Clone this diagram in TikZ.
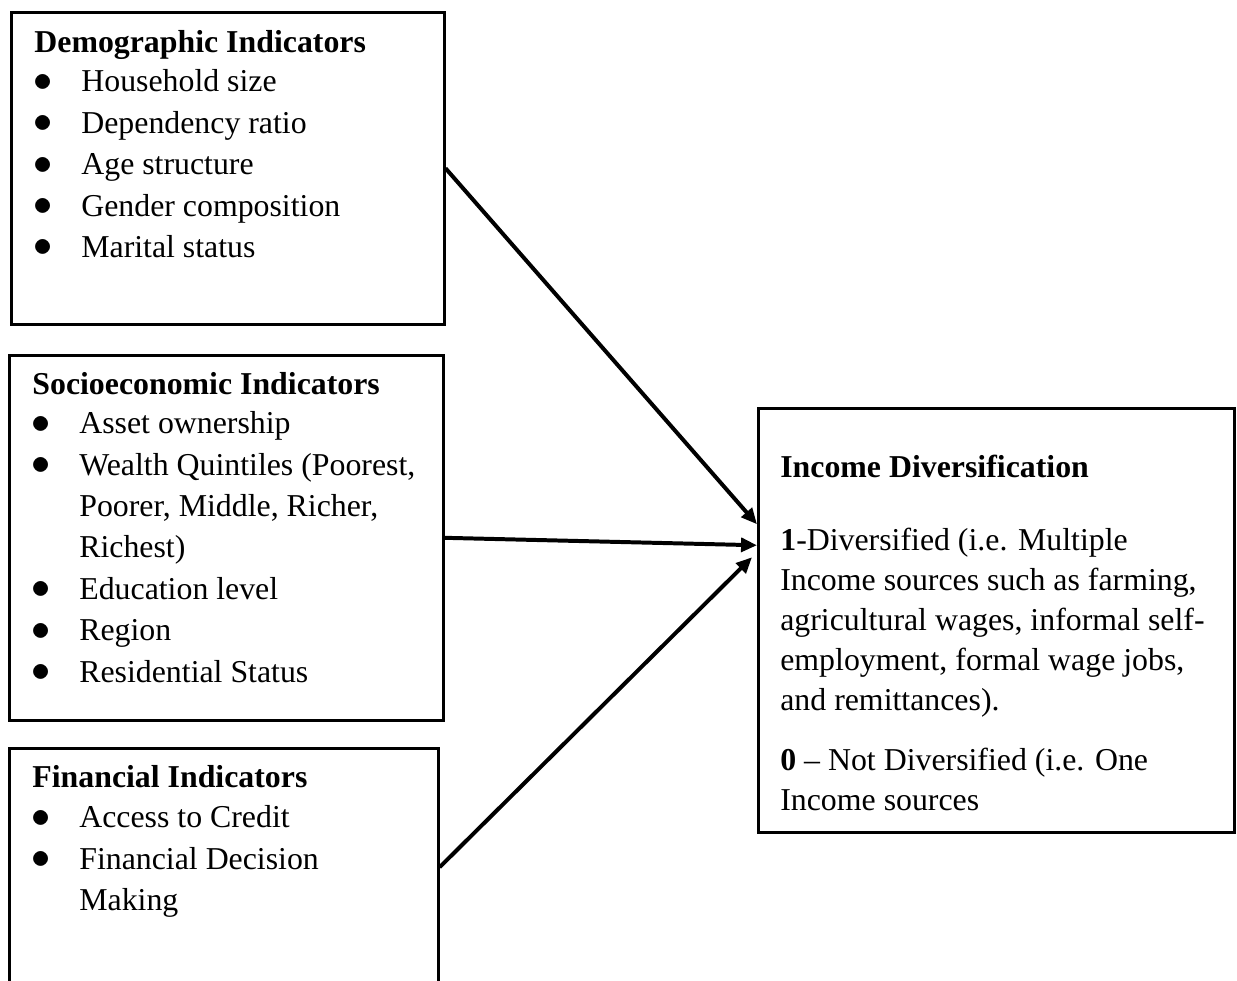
\documentclass[tikz,border=0pt]{standalone}
\usepackage{fontspec}
\setmainfont{Liberation Serif}
\usetikzlibrary{arrows.meta,positioning,calc}

\newlength{\bhang}
\setlength{\bhang}{17.7pt}
\newcommand{\bitem}[1]{\par\hangindent=\bhang\hangafter=1\noindent
  \makebox[\bhang][l]{\hspace{-0.4pt}\raisebox{0.2pt}{\scalebox{1.2}{$\bullet$}}}#1\par}
\newcommand{\boxtext}[3]{\parbox[t][#1][t]{#2}{\raggedright #3}}

\begin{document}
\begin{tikzpicture}[
    x=0.377pt, y=-0.377pt,
    every node/.style={font=\fontsize{12}{15.6}\selectfont},
    indbox/.style={draw, line width=1pt, anchor=north west,
                   inner xsep=8.7pt, inner ysep=0pt},
    outbox/.style={draw, line width=1pt, anchor=north west,
                   inner xsep=8.3pt, inner ysep=0pt,
                   font=\fontsize{12}{15.1}\selectfont},
    arr/.style={-{Triangle[length=6pt, width=5.2pt]}, line width=1.5pt}
]
\path[use as bounding box, clip] (0,0) rectangle (1237,981);

% ── Demographic indicators ────────────────────────────────────────────────
\node[indbox] (demo) at (10,11) {\boxtext{117.6pt}{145.8pt}{%
  \rule{0pt}{15.3pt}\textbf{Demographic Indicators}\par\vspace{-0.9pt}
  \bitem{Household size}
  \bitem{Dependency ratio}
  \bitem{Age structure}
  \bitem{Gender composition}
  \bitem{Marital status}}};

% ── Socioeconomic indicators ──────────────────────────────────────────────
\node[indbox] (socio) at (8,354) {\boxtext{137.6pt}{146.2pt}{%
  \rule{0pt}{14.9pt}\textbf{Socioeconomic Indicators}\par\vspace{-0.9pt}
  \bitem{Asset ownership}
  \bitem{Wealth Quintiles (Poorest,\newline Poorer, Middle, Richer,\newline Richest)}
  \bitem{Education level}
  \bitem{Region}
  \bitem{Residential Status}}};

% ── Financial indicators ──────────────────────────────────────────────────
\node[indbox] (fin) at (8,747) {\boxtext{89.7pt}{144.3pt}{%
  \rule{0pt}{14.8pt}\textbf{Financial Indicators}\par\vspace{-0.5pt}
  \bitem{Access to Credit}
  \bitem{Financial Decision\newline Making}}};

% ── Income diversification ────────────────────────────────────────────────
\node[outbox] (income) at (757,407) {\boxtext{159.8pt}{162.9pt}{%
  \rule{0pt}{26pt}\textbf{Income Diversification}\par
  \vspace{12.4pt}
  \textbf{1}-Diversified (i.e. Multiple\newline
  Income sources such as farming,\newline
  agricultural wages, informal self-\newline
  employment, formal wage jobs,\newline
  and remittances).\par
  \vspace{7.5pt}
  \textbf{0} -- Not Diversified (i.e. One\newline
  Income sources\par}};

% ── Indicators → income diversification ───────────────────────────────────
\coordinate (tipA) at ($(income.west)+(0,-96)$);
\coordinate (tipB) at ($(income.west)+(0,-75)$);
\coordinate (tipC) at ($(income.west)+(-5,-63)$);
\draw[arr] (demo.east) -- (tipA);
\draw[arr] (socio.east) -- (tipB);
\draw[arr] (fin.east) -- (tipC);

\end{tikzpicture}
\end{document}
